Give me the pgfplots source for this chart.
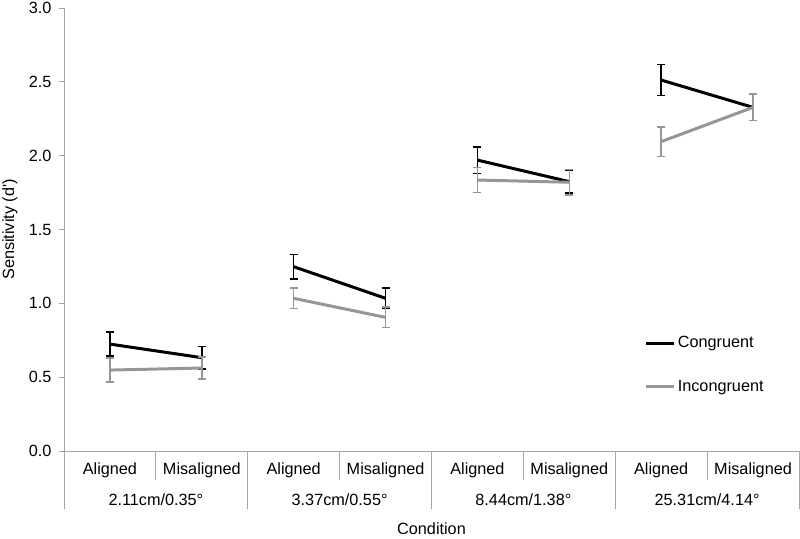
\documentclass[border=0pt]{standalone}
\usepackage{fontspec}
\setmainfont{Liberation Sans}
\usepackage{pgfplots}
\pgfplotsset{compat=1.18}
\usepackage{pgfplotstable}
\definecolor{lgray}{RGB}{150,150,150}
\definecolor{axgray}{RGB}{165,165,165}
\pgfplotstableread{
x y e
0 0.724 0.08
1 0.632 0.075
1.5 nan 0
2 1.248 0.084
3 1.034 0.07
3.5 nan 0
4 1.970 0.09
5 1.824 0.078
5.5 nan 0
6 2.512 0.105
7 2.327 0.09
}\congr
\pgfplotstableread{
x y e
0 0.548 0.08
1 0.562 0.075
1.5 nan 0
2 1.034 0.07
3 0.905 0.07
3.5 nan 0
4 1.835 0.085
5 1.820 0.085
5.5 nan 0
6 2.095 0.10
7 2.327 0.09
}\incongr
\begin{document}
\fontsize{16.3}{19}\selectfont
\begin{tikzpicture}
\useasboundingbox (-64bp,-88bp) rectangle (736bp,451bp);
\begin{axis}[
  at={(0,0)}, anchor=south west,
  scale only axis, width=735bp, height=443bp,
  xmin=-0.5, xmax=7.5, ymin=0, ymax=3,
  axis x line=bottom, axis y line=left,
  axis line style={draw=axgray, line width=0.9bp, -},
  xtick=\empty,
  ytick={0,0.5,...,3},
  unbounded coords=jump,
  /pgf/number format/fixed, /pgf/number format/fixed zerofill,
  /pgf/number format/precision=1, /pgf/number format/assume math mode=true,
  yticklabel style={xshift=-2bp},
  tick align=outside, major tick length=5bp,
  y tick style={draw=axgray, line width=0.9bp},
  clip=false,
  legend style={at={(rel axis cs:0.79,0.194)}, anchor=west, draw=none, fill=none,
    row sep=26bp, inner sep=0pt, cells={anchor=west}, font=\fontsize{16.3}{19}\selectfont},
  legend image code/.code={\draw[#1] (0bp,0bp) -- (28bp,0bp);},
]
\addplot[black, line width=3bp, mark=none,
  error bars/.cd, y dir=both, y explicit,
  error bar style={line width=1.6bp, black},
  error mark options={rotate=90, mark size=4bp, line width=1.6bp, black}]
  table[x=x, y=y, y error=e] {\congr};
\addlegendentry{Congruent}
\addplot[lgray, line width=3bp, mark=none,
  error bars/.cd, y dir=both, y explicit,
  error bar style={line width=1.6bp, lgray},
  error mark options={rotate=90, mark size=4bp, line width=1.6bp, lgray}]
  table[x=x, y=y, y error=e] {\incongr};
\addlegendentry{Incongruent}
% category separators
\draw[axgray, line width=0.9bp] (axis cs:0.5,0) -- ([yshift=-29bp]axis cs:0.5,0);
\draw[axgray, line width=0.9bp] (axis cs:2.5,0) -- ([yshift=-29bp]axis cs:2.5,0);
\draw[axgray, line width=0.9bp] (axis cs:4.5,0) -- ([yshift=-29bp]axis cs:4.5,0);
\draw[axgray, line width=0.9bp] (axis cs:6.5,0) -- ([yshift=-29bp]axis cs:6.5,0);
\draw[axgray, line width=0.9bp] (axis cs:-0.5,0) -- ([yshift=-58bp]axis cs:-0.5,0);
\draw[axgray, line width=0.9bp] (axis cs:1.5,0) -- ([yshift=-58bp]axis cs:1.5,0);
\draw[axgray, line width=0.9bp] (axis cs:3.5,0) -- ([yshift=-58bp]axis cs:3.5,0);
\draw[axgray, line width=0.9bp] (axis cs:5.5,0) -- ([yshift=-58bp]axis cs:5.5,0);
\draw[axgray, line width=0.9bp] (axis cs:7.5,0) -- ([yshift=-58bp]axis cs:7.5,0);
\node at ([yshift=-19bp]axis cs:0,0) {Aligned};
\node at ([yshift=-19bp]axis cs:2,0) {Aligned};
\node at ([yshift=-19bp]axis cs:4,0) {Aligned};
\node at ([yshift=-19bp]axis cs:6,0) {Aligned};
\node at ([yshift=-19bp]axis cs:1,0) {Misaligned};
\node at ([yshift=-19bp]axis cs:3,0) {Misaligned};
\node at ([yshift=-19bp]axis cs:5,0) {Misaligned};
\node at ([yshift=-19bp]axis cs:7,0) {Misaligned};
\node at ([yshift=-49bp]axis cs:0.5,0) {2.11cm/0.35°};
\node at ([yshift=-49bp]axis cs:2.5,0) {3.37cm/0.55°};
\node at ([yshift=-49bp]axis cs:4.5,0) {8.44cm/1.38°};
\node at ([yshift=-49bp]axis cs:6.5,0) {25.31cm/4.14°};
\node at ([yshift=-78bp]axis cs:3.5,0) {Condition};
\node[rotate=90] at ([xshift=-54bp]rel axis cs:0,0.5) {Sensitivity (d\textquotesingle)};
\end{axis}
\end{tikzpicture}
\end{document}
